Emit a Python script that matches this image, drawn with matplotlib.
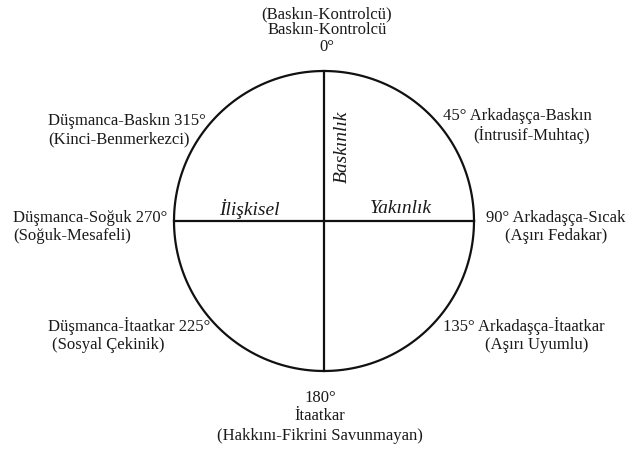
import numpy as np
import matplotlib
matplotlib.use("Agg")
import matplotlib.pyplot as plt

plt.rcParams['font.family'] = ['Liberation Serif', 'DejaVu Serif']

# octant labels (angle, main line, second line)
angles = [0, 45, 90, 135, 180, 225, 270, 315]
names = ["Baskın-Kontrolcü", "Arkadaşça-Baskın", "Arkadaşça-Sıcak", "Arkadaşça-İtaatkar",
         "İtaatkar", "Düşmanca-İtaatkar", "Düşmanca-Soğuk", "Düşmanca-Baskın"]
subs = ["(Baskın-Kontrolcü)", "(İntrusif-Muhtaç)", "(Aşırı Fedakar)", "(Aşırı Uyumlu)",
        "(Hakkını-Fikrini Savunmayan)", "(Sosyal Çekinik)", "(Soğuk-Mesafeli)", "(Kinci-Benmerkezci)"]
axis_labels = ["İlişkisel", "Yakınlık", "Baskınlık"]

fig = plt.figure(figsize=(6.27, 4.52), dpi=100)
ax = fig.add_axes([0, 0, 1, 1])
ax.set_xlim(0, 627)
ax.set_ylim(452, 0)
ax.axis('off')

cx, cy, r = 324, 222, 150
col = '#111111'
t = np.linspace(0, 2 * np.pi, 400)
ax.plot(cx + r * np.cos(t), cy + r * np.sin(t), color=col, lw=1.6)
ax.plot([cx - r, cx + r], [cy, cy], color=col, lw=1.6)
ax.plot([cx, cx], [cy - r, cy + r], color=col, lw=1.6)

fs = 12
tc = '#1a1a1a'
deg = [f"{a}\u00b0" for a in angles]
kw = dict(va='center', fontsize=fs, color=tc)

# top (0)
ax.text(327, 14, subs[0], ha='center', **kw)
ax.text(327, 30, names[0], ha='center', **kw)
ax.text(327, 47, deg[0], ha='center', **kw)
# 45
ax.text(443, 116, f"{deg[1]} {names[1]}", ha='left', **kw)
ax.text(532, 135, subs[1], ha='center', **kw)
# 90
ax.text(486, 218, f"{deg[2]} {names[2]}", ha='left', **kw)
ax.text(556, 236, subs[2], ha='center', **kw)
# 135
ax.text(443, 326, f"{deg[3]} {names[3]}", ha='left', **kw)
ax.text(537, 345, subs[3], ha='center', **kw)
# 180
ax.text(320, 398, deg[4], ha='center', **kw)
ax.text(320, 416, names[4], ha='center', **kw)
ax.text(320, 436, subs[4], ha='center', **kw)
# 225
ax.text(48, 326, f"{names[5]} {deg[5]}", ha='left', **kw)
ax.text(52, 345, subs[5], ha='left', **kw)
# 270
ax.text(13, 218, f"{names[6]} {deg[6]}", ha='left', **kw)
ax.text(13, 236, subs[6], ha='left', **kw)
# 315
ax.text(48, 121, f"{names[7]} {deg[7]}", ha='left', **kw)
ax.text(48, 139, subs[7], ha='left', **kw)

# inner axis names
ax.text(249, 209, axis_labels[0], ha='center', va='center', fontsize=14, style='italic', color=tc)
ax.text(401, 209, axis_labels[1], ha='center', va='center', fontsize=14, style='italic', color=tc)
ax.text(342, 147, axis_labels[2], ha='center', va='center', fontsize=14, style='italic',
        rotation=90, color=tc)

fig.savefig("out.png", dpi=100)
